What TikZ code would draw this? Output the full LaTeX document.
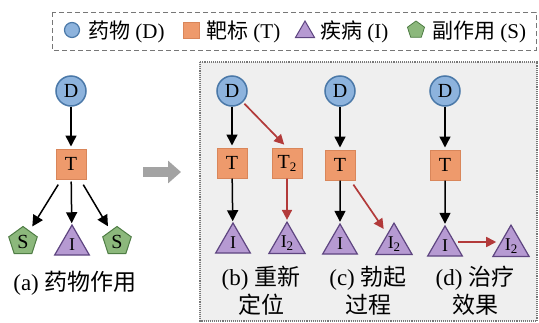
\documentclass[tikz,border=0pt]{standalone}
\usepackage{fontspec}
\setmainfont{Liberation Serif}
\newfontfamily\cjk{Noto Sans CJK SC}
\usetikzlibrary{shapes.geometric,arrows.meta}
\definecolor{dfill}{HTML}{8DB3DD}
\definecolor{ddraw}{HTML}{4A78A8}
\definecolor{tfill}{HTML}{EE9A6C}
\definecolor{tdraw}{HTML}{D9865A}
\definecolor{ifill}{HTML}{B69AD2}
\definecolor{idraw}{HTML}{5E4580}
\definecolor{sfill}{HTML}{8CB87C}
\definecolor{sdraw}{HTML}{4F7D45}
\definecolor{redarr}{HTML}{B23A3A}
\definecolor{panelbg}{HTML}{EFEFEF}
\definecolor{frame}{HTML}{777777}
\definecolor{bigarrow}{HTML}{A3A3A3}
\tikzset{
  lettr/.style={font=\fontsize{20}{21}\selectfont},
  dnode/.style={circle, fill=dfill, draw=ddraw, line width=1.5pt, minimum size=30pt, inner sep=0pt, lettr},
  tnode/.style={rectangle, fill=tfill, draw=tdraw, line width=1pt, minimum size=30pt, inner sep=0pt, lettr},
  inode/.style={regular polygon, regular polygon sides=3, fill=ifill, draw=idraw, line width=1.2pt, minimum size=40pt, inner sep=0pt, font=\fontsize{18}{19}\selectfont},
  snode/.style={regular polygon, regular polygon sides=5, fill=sfill, draw=sdraw, line width=1pt, minimum size=30pt, inner sep=0pt, lettr},
  blk/.style={-{Triangle[width=11pt,length=11pt]}, line width=1.5pt, black},
  redar/.style={-{Triangle[width=10pt,length=10pt]}, line width=1.7pt, redarr},
  legtext/.style={anchor=base west, inner sep=0pt, font=\fontsize{21}{25}\selectfont},
  caption/.style={align=center, inner sep=0pt, font=\fontsize{23}{28}\selectfont},
}
\newcommand{\subtwo}{\raisebox{-3pt}{\fontsize{13}{13}\selectfont 2}}
\begin{document}
\begin{tikzpicture}[x=1pt,y=-1pt]
\useasboundingbox (0,0) rectangle (539,322);
% legend
\draw[frame, line width=1pt, dash pattern=on 5pt off 3pt] (52,12) rectangle (536,50);
\node[circle, fill=dfill, draw=ddraw, line width=1.2pt, minimum size=15pt, inner sep=0pt] (ld) at (72,30) {};
\node[legtext] (ldt) at (88,38) {{\cjk 药物} (D)};
\node[rectangle, fill=tfill, draw=tdraw, line width=0.8pt, minimum size=16pt, inner sep=0pt] (lt) at (191,30) {};
\node[legtext] (ltt) at (206,38) {{\cjk 靶标} (T)};
\node[regular polygon, regular polygon sides=3, fill=ifill, draw=idraw, line width=1pt, minimum size=22pt, inner sep=0pt] (li) at (305,32) {};
\node[legtext] (lit) at (320,38) {{\cjk 疾病} (I)};
\node[regular polygon, regular polygon sides=5, fill=sfill, draw=sdraw, line width=0.8pt, minimum size=18pt, inner sep=0pt] (ls) at (416,30) {};
\node[legtext] (lst) at (432,38) {{\cjk 副作用} (S)};
% panel a
\node[dnode] (Da) at (71,91) {D};
\node[tnode] (Ta) at (71,164) {T};
\node[snode] (Sa1) at (23,241.5) {S};
\node[inode] (Ia) at (72,245) {I};
\node[snode] (Sa2) at (117,241.5) {S};
\draw[blk, shorten >=2pt] (Da) -- (Ta);
\draw[blk, shorten <=6pt, shorten >=5pt] (Ta) -- (Sa1);
\draw[blk, shorten <=2pt, shorten >=1pt] (Ta) -- (Ia);
\draw[blk, shorten <=6pt, shorten >=5pt] (Ta) -- (Sa2);
\node[caption] (capa) at (75,283) {(a) {\cjk 药物作用}};
% big arrow
\coordinate (ga1) at (143,172);
\coordinate (ga2) at (181,172);
\draw[bigarrow, line width=10pt, -{Triangle[width=22pt,length=13pt]}] (ga1) -- (ga2);
% panel box
\draw[frame, line width=1.1pt, densely dotted, fill=panelbg] (200,62) rectangle (537,321);
% panel b
\node[dnode] (Db) at (232,91) {D};
\node[tnode] (Tb) at (232,163) {T};
\node[tnode] (T2b) at (287,163) {T\subtwo};
\node[inode] (Ib) at (233,243) {I};
\node[inode] (I2b) at (287,243) {I\subtwo};
\draw[blk, shorten >=2pt] (Db) -- (Tb);
\draw[blk, shorten >=1pt] (Tb) -- (Ib);
\draw[redar, shorten <=2pt, shorten >=4pt] (Db) -- (T2b.north);
\draw[redar, shorten >=1pt] (T2b) -- (I2b);
\node[caption] (capb) at (261,291) {(b) {\cjk 重新}\\{\cjk 定位}};
% panel c
\node[dnode] (Dc) at (340,91) {D};
\node[tnode] (Tc) at (340,165) {T};
\node[inode] (Ic) at (340,244) {I};
\node[inode] (I2c) at (394,244) {I\subtwo};
\draw[blk, shorten >=2pt] (Dc) -- (Tc);
\draw[blk, shorten >=1pt] (Tc) -- (Ic);
\draw[redar, shorten <=5pt, shorten >=6pt] (Tc) -- (I2c);
\node[caption] (capc) at (368,291) {(c) {\cjk 勃起}\\{\cjk 过程}};
% panel d
\node[dnode] (Dd) at (445,91) {D};
\node[tnode] (Td) at (445,165) {T};
\node[inode] (Id) at (445,246) {I};
\node[inode] (I2d) at (511,246) {I\subtwo};
\draw[blk, shorten >=2pt] (Dd) -- (Td);
\draw[blk, shorten >=1pt] (Td) -- (Id);
\draw[redar, shorten <=1pt, shorten >=2pt] (Id.east |- 0,242) -- (I2d.west |- 0,242);
\node[caption] (capd) at (475,291) {(d) {\cjk 治疗}\\{\cjk 效果}};
\end{tikzpicture}
\end{document}
